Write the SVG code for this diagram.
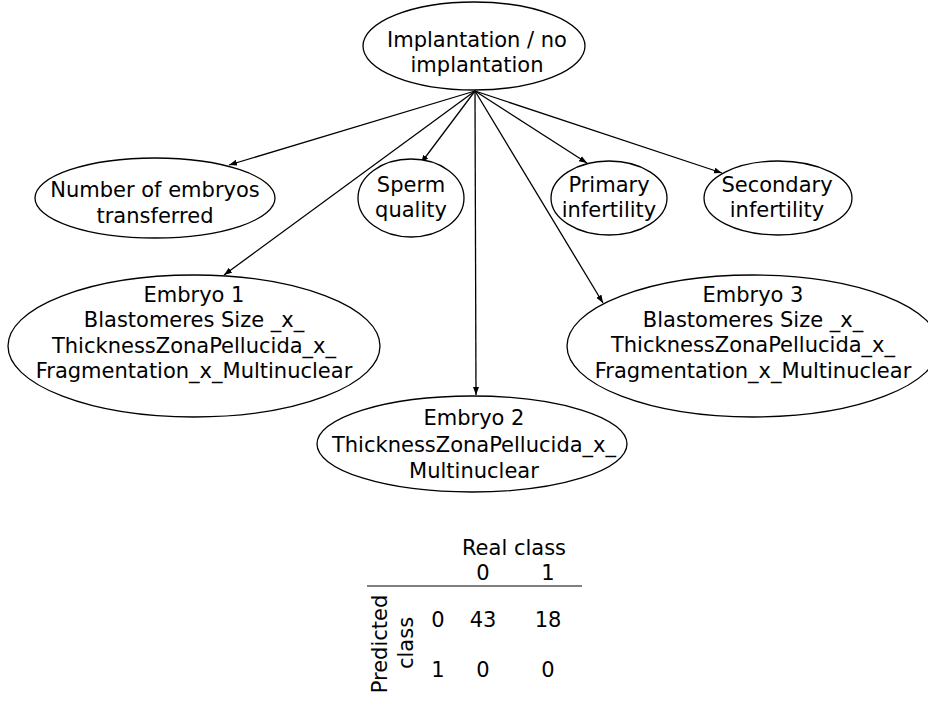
<svg xmlns="http://www.w3.org/2000/svg" width="928" height="701" viewBox="0 0 928 701">
<style>
  .node ellipse { fill: #ffffff; stroke: #000000; stroke-width: 1.3; }
  text { font-family: "DejaVu Sans", "Liberation Sans", sans-serif; font-size: 21px; fill: #000000; text-anchor: middle; }
  .edge { stroke: #000000; stroke-width: 1.3; fill: none; marker-end: url(#arrow); }
</style>
<defs>
  <marker id="arrow" markerUnits="userSpaceOnUse" markerWidth="9" markerHeight="7" refX="8" refY="3.5" orient="auto">
    <path d="M0,0.5 L8,3.5 L0,6.5 z" fill="#000000"/>
  </marker>
</defs>
<rect width="928" height="701" fill="#ffffff"/>
<g id="connectors">
  <line class="edge" x1="475" y1="91" x2="229" y2="165"/>
  <line class="edge" x1="475" y1="91" x2="224" y2="275"/>
  <line class="edge" x1="475" y1="91" x2="421" y2="163"/>
  <line class="edge" x1="475" y1="91" x2="476" y2="395"/>
  <line class="edge" x1="475" y1="91" x2="587" y2="163"/>
  <line class="edge" x1="475" y1="91" x2="603" y2="303"/>
  <line class="edge" x1="475" y1="91" x2="722" y2="173"/>
</g>
<g id="implantation" class="node">
  <ellipse cx="474" cy="46" rx="111" ry="44"/>
  <text x="477" y="47">Implantation / no</text>
  <text x="477" y="72">implantation</text>
</g>
<g id="number-embryos" class="node">
  <ellipse cx="155" cy="198" rx="120" ry="40"/>
  <text x="155" y="197">Number of embryos</text>
  <text x="155" y="223">transferred</text>
</g>
<g id="sperm-quality" class="node">
  <ellipse cx="411" cy="198" rx="53" ry="39"/>
  <text x="411" y="192">Sperm</text>
  <text x="411" y="217">quality</text>
</g>
<g id="primary-infertility" class="node">
  <ellipse cx="609" cy="198" rx="58" ry="37"/>
  <text x="609" y="192">Primary</text>
  <text x="609" y="217">infertility</text>
</g>
<g id="secondary-infertility" class="node">
  <ellipse cx="778" cy="198" rx="74" ry="37"/>
  <text x="777" y="192">Secondary</text>
  <text x="777" y="217">infertility</text>
</g>
<g id="embryo1" class="node">
  <ellipse cx="194" cy="346" rx="186" ry="71"/>
  <text x="194" y="302">Embryo 1</text>
  <text x="194" y="327">Blastomeres Size _x_</text>
  <text x="194" y="353">ThicknessZonaPellucida_x_</text>
  <text x="194" y="378">Fragmentation_x_Multinuclear</text>
</g>
<g id="embryo3" class="node">
  <ellipse cx="753" cy="346" rx="186" ry="71"/>
  <text x="753" y="302">Embryo 3</text>
  <text x="753" y="327">Blastomeres Size _x_</text>
  <text x="753" y="352">ThicknessZonaPellucida_x_</text>
  <text x="753" y="378">Fragmentation_x_Multinuclear</text>
</g>
<g id="embryo2" class="node">
  <ellipse cx="472" cy="444" rx="155" ry="48"/>
  <text x="474" y="425">Embryo 2</text>
  <text x="474" y="452">ThicknessZonaPellucida_x_</text>
  <text x="474" y="478">Multinuclear</text>
</g>
<g id="confusion-table">
  <text x="514" y="555">Real class</text>
  <text x="483" y="580">0</text>
  <text x="548" y="580">1</text>
  <line x1="367" y1="586" x2="512" y2="586" stroke="#555555" stroke-width="1.5"/>
  <line x1="512" y1="586" x2="582" y2="586" stroke="#000000" stroke-width="1.2"/>
  <text transform="translate(387,644) rotate(-90)">Predicted</text>
  <text transform="translate(413,643) rotate(-90)">class</text>
  <text x="438" y="627">0</text>
  <text x="483" y="627">43</text>
  <text x="548" y="627">18</text>
  <text x="438" y="677">1</text>
  <text x="483" y="677">0</text>
  <text x="548" y="677">0</text>
</g>
</svg>
